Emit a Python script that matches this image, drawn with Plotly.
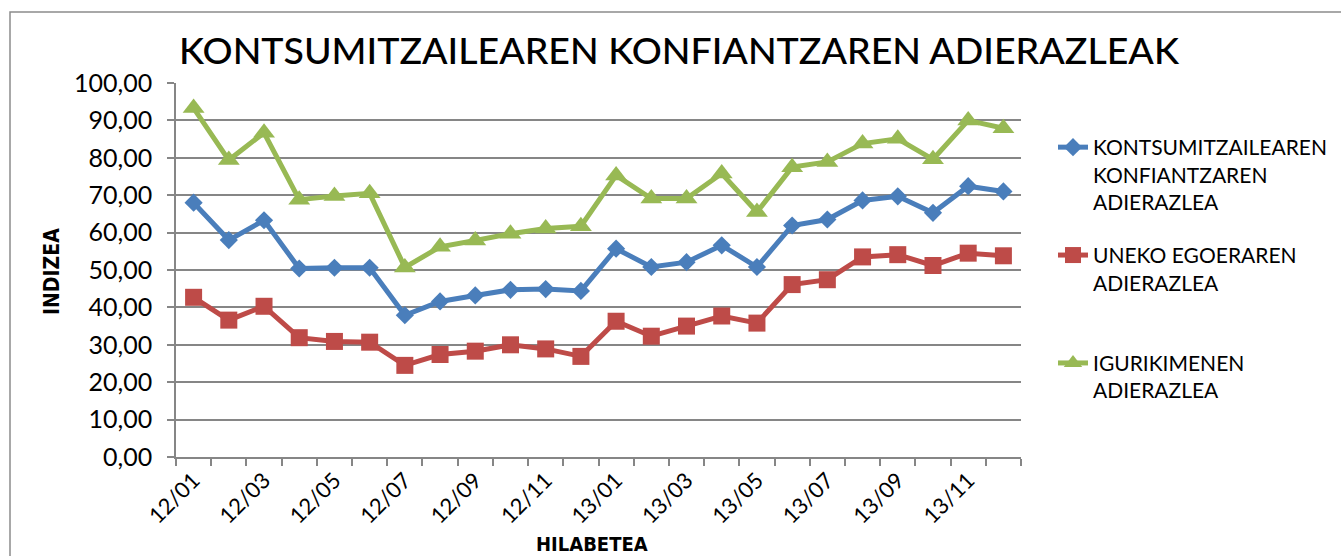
import plotly.graph_objects as go

months = ["12/01","12/02","12/03","12/04","12/05","12/06","12/07","12/08","12/09","12/10","12/11","12/12",
          "13/01","13/02","13/03","13/04","13/05","13/06","13/07","13/08","13/09","13/10","13/11","13/12"]

konfiantza = [68.0, 58.0, 63.3, 50.4, 50.6, 50.6, 37.9, 41.6, 43.2, 44.7, 44.9, 44.4,
              55.7, 50.8, 52.1, 56.6, 50.8, 61.9, 63.5, 68.6, 69.7, 65.3, 72.4, 71.0]
uneko = [42.7, 36.6, 40.3, 31.9, 30.9, 30.7, 24.5, 27.4, 28.3, 30.0, 28.9, 26.9,
         36.3, 32.3, 35.0, 37.7, 35.8, 46.1, 47.4, 53.5, 54.1, 51.2, 54.5, 53.8]
igurikimen = [93.3, 79.4, 86.7, 68.8, 69.8, 70.5, 50.7, 56.2, 57.9, 59.7, 61.1, 61.7,
              75.3, 69.1, 69.1, 75.8, 65.5, 77.5, 78.9, 83.8, 85.1, 79.6, 90.0, 87.9]

names = ["KONTSUMITZAILEAREN<br>KONFIANTZAREN<br>ADIERAZLEA",
         "UNEKO EGOERAREN<br>ADIERAZLEA<br> ",
         "IGURIKIMENEN<br>ADIERAZLEA"]

tick_text = [m if i % 2 == 0 else "" for i, m in enumerate(months)]

FONT = "Lato, 'Open Sans', sans-serif"
NARROW = "'DejaVu Sans Condensed', 'Liberation Sans Narrow', sans-serif"
W, H = 1341, 556
L, R, T, B = 176, 1021, 83, 457


def px(xp):
    return (xp - L) / (R - L)


def py(yp):
    return (B - yp) / (B - T)


fig = go.Figure()
fig.add_trace(go.Scatter(x=months, y=konfiantza, name=names[0], legendgroup="a",
                         mode="lines+markers",
                         line=dict(color="#4A7EBB", width=5),
                         marker=dict(symbol="diamond", size=14, color="#4A7EBB")))
fig.add_trace(go.Scatter(x=months, y=uneko, name=names[1], legendgroup="b",
                         mode="lines+markers",
                         line=dict(color="#BE4B48", width=5),
                         marker=dict(symbol="square", size=17, color="#BE4B48")))
fig.add_trace(go.Scatter(x=months, y=igurikimen, name=names[2], legendgroup="c",
                         mode="lines+markers",
                         line=dict(color="#98B954", width=5),
                         marker=dict(symbol="triangle-up", size=19, color="#98B954")))

fig.update_layout(
    width=W, height=H,
    margin=dict(l=L, r=W - R, t=T, b=H - B, pad=0, autoexpand=False),
    paper_bgcolor="white", plot_bgcolor="white",
    separators=",.",
    font=dict(family=FONT, color="black"),
    title=dict(text="KONTSUMITZAILEAREN KONFIANTZAREN ADIERAZLEAK",
               font=dict(family=FONT, size=37.5, color="black", weight=500),
               xref="container", yref="container", x=679 / W, y=1 - 51 / H,
               xanchor="center", yanchor="middle"),
    showlegend=True,
    legend=dict(x=px(1053), y=py(127), xanchor="left", yanchor="top",
                font=dict(family=FONT, size=21, color="black"),
                valign="top", tracegroupgap=23, bgcolor="rgba(0,0,0,0)"),
    xaxis=dict(type="category", tickmode="array", tickvals=months, ticktext=tick_text,
               tickson="boundaries", ticks="outside", ticklen=7, tickcolor="#868686", tickwidth=1.5,
               showline=True, linecolor="#868686", linewidth=1.5,
               showgrid=False, tickangle=-45, automargin=False,
               tickfont=dict(family=FONT, size=22, color="black"),
               range=[-0.5, len(months) - 0.5]),
    yaxis=dict(range=[0, 100], dtick=10, tick0=0, tickformat=".2f",
               ticks="outside", ticklen=7, tickcolor="#868686", tickwidth=1.5,
               showline=True, linecolor="#868686", linewidth=1.5,
               showgrid=True, gridcolor="#868686", gridwidth=1.5, zeroline=False,
               tickfont=dict(family=FONT, size=25, color="black"), automargin=False,
               ticklabelstandoff=10),
)

# axis titles
fig.add_annotation(text="<b>INDIZEA</b>", xref="paper", yref="paper",
                   x=px(52), y=py(272), textangle=-90,
                   showarrow=False, xanchor="center", yanchor="middle",
                   font=dict(family=NARROW, size=21, color="black"))
fig.add_annotation(text="<b>HILABETEA</b>", xref="paper", yref="paper",
                   x=px(592), y=py(544),
                   showarrow=False, xanchor="center", yanchor="middle",
                   font=dict(family=NARROW, size=20, color="black"))

# chart frame
fig.add_shape(type="rect", xref="paper", yref="paper",
              x0=px(10), x1=px(W + 20),
              y0=py(H + 20), y1=py(12),
              line=dict(color="#8C8C8C", width=1.5), layer="below")

fig.write_html("out.html",
               config={"displayModeBar": False},
               post_script="document.body.style.margin='0';document.body.style.overflow='hidden';")
